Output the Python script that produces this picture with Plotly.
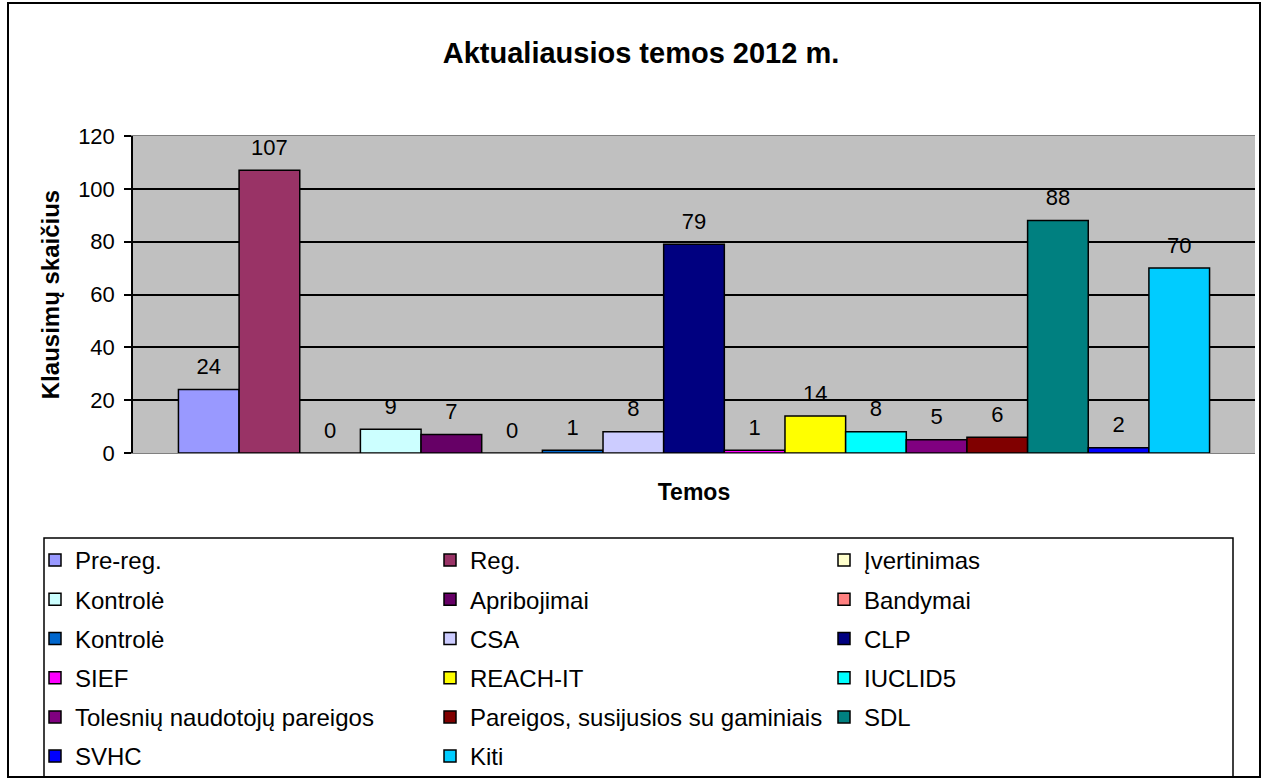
import plotly.graph_objects as go

# ---- data ----
series_names = [
    "Pre-reg.", "Reg.", "Įvertinimas",
    "Kontrolė", "Apribojimai", "Bandymai",
    "Kontrolė", "CSA", "CLP",
    "SIEF", "REACH-IT", "IUCLID5",
    "Tolesnių naudotojų pareigos", "Pareigos, susijusios su gaminiais", "SDL",
    "SVHC", "Kiti",
]
series_values = [24, 107, 0, 9, 7, 0, 1, 8, 79, 1, 14, 8, 5, 6, 88, 2, 70]
series_colors = [
    "#9999FF", "#993366", "#FFFFCC",
    "#CCFFFF", "#660066", "#FF8080",
    "#0066CC", "#CCCCFF", "#000080",
    "#FF00FF", "#FFFF00", "#00FFFF",
    "#800080", "#800000", "#008080",
    "#0000FF", "#00CCFF",
]
category = ["Temos"]
y_ticks = [0, 20, 40, 60, 80, 100, 120]

# ---- layout geometry (pixels) ----
W, H = 1264, 779
PL, PR, PT, PB = 133, 1255, 136, 453  # plot area
pw, ph = PR - PL, PB - PT


def px_x(x):
    return (x - PL) / pw


def px_y(y):
    return (PB - y) / ph


FONT = "Liberation Sans, Arial, sans-serif"

fig = go.Figure()
legend_ids = ["legend", "legend2", "legend3"]
for i, (name, val, col) in enumerate(zip(series_names, series_values, series_colors)):
    fig.add_trace(go.Bar(
        x=category, y=[val], name=name,
        marker=dict(color=col, line=dict(color="black", width=1.5)),
        text=[val],
        texttemplate="<span style='font-size:22px'>%{text}</span><br> ",
        textposition="outside",
        textfont=dict(family=FONT, size=8, color="black"),
        cliponaxis=False,
        legend=legend_ids[i % 3],
        legendgroup=f"g{i}",
        showlegend=True,
    ))

leg_common = dict(
    orientation="v", bgcolor="rgba(0,0,0,0)", borderwidth=0,
    font=dict(family=FONT, size=24, color="black"),
    tracegroupgap=5, itemwidth=30,
    xanchor="left", yanchor="top", traceorder="grouped",
)
leg_top = px_y(538)
fig.update_layout(
    legend=dict(x=px_x(35), y=leg_top, **leg_common),
    legend2=dict(x=px_x(430), y=leg_top, **leg_common),
    legend3=dict(x=px_x(824), y=leg_top, **leg_common),
)

fig.update_layout(
    width=W, height=H,
    margin=dict(l=PL, r=W - PR, t=PT, b=H - PB, autoexpand=False),
    paper_bgcolor="white",
    plot_bgcolor="#C0C0C0",
    barmode="group",
    bargap=0.081,
    bargroupgap=0,
    title=dict(
        text="<b>Aktualiausios temos 2012 m.</b>",
        x=(641) / W, xanchor="center",
        y=1 - 53 / H, yanchor="middle",
        font=dict(family=FONT, size=29, color="black"),
    ),
    xaxis=dict(
        showticklabels=False, ticks="",
        showline=True, linecolor="#808080", linewidth=1,
        mirror=True,
        title=dict(text="<b>Temos</b>", font=dict(family=FONT, size=23, color="black"), standoff=30),
    ),
    yaxis=dict(
        range=[0, 120], tickvals=y_ticks,
        showgrid=True, gridcolor="black", gridwidth=1.5,
        showline=True, linecolor="black", linewidth=1.5,
        ticks="outside", ticklen=7, tickcolor="black", tickwidth=1.5,
        ticklabelstandoff=5,
        tickfont=dict(family=FONT, size=22, color="black"),
        zeroline=False,
        title=dict(text="<b>Klausimų skaičius</b>", font=dict(family=FONT, size=24, color="black"), standoff=12),
    ),
    showlegend=True,
)

# outer chart frame and legend frame
fig.add_shape(type="rect", xref="paper", yref="paper",
              x0=px_x(8), x1=px_x(1260), y0=px_y(777), y1=px_y(3),
              line=dict(color="black", width=2), fillcolor="rgba(0,0,0,0)", layer="below")
fig.add_shape(type="rect", xref="paper", yref="paper",
              x0=px_x(44), x1=px_x(1233), y0=px_y(777), y1=px_y(538),
              line=dict(color="black", width=1.5), fillcolor="rgba(0,0,0,0)", layer="below")

fig.write_html("out.html", config={"displayModeBar": False},
               post_script="document.body.style.margin='0';document.body.style.overflow='hidden';")
